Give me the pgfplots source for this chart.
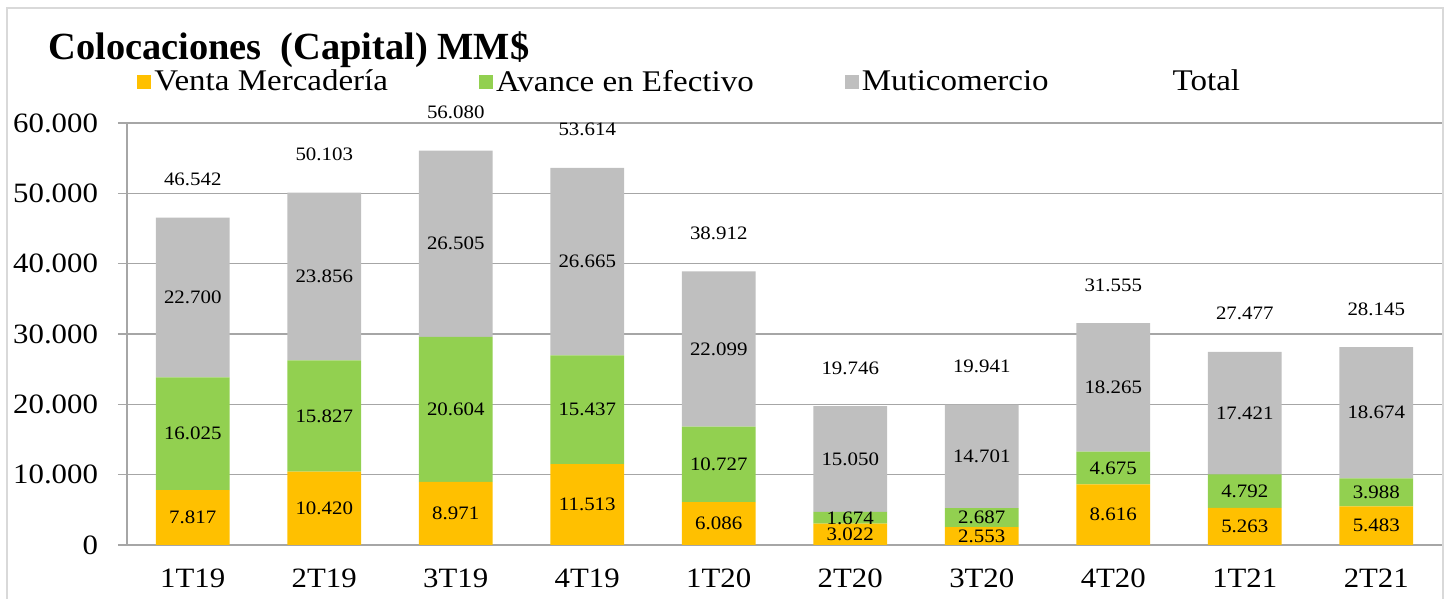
\documentclass[border=0pt]{standalone}
\usepackage{pgfplots}
\pgfplotsset{compat=1.18}
\usepackage{pgfplotstable}
\usepackage{fontspec}
\setmainfont{Liberation Serif}[FakeStretch=1.1]
\newfontfamily\titlefont{Liberation Serif}

\definecolor{venta}{HTML}{FFC000}
\definecolor{avance}{HTML}{92D050}
\definecolor{multi}{HTML}{BFBFBF}
\definecolor{gridc}{HTML}{A6A6A6}
\definecolor{framec}{HTML}{D9D9D9}

% quarter, venta mercaderia, avance en efectivo, muticomercio, total
\pgfplotstableread{
x v a m t
0 7817 16025 22700 46542
1 10420 15827 23856 50103
2 8971 20604 26505 56080
3 11513 15437 26665 53614
4 6086 10727 22099 38912
5 3022 1674 15050 19746
6 2553 2687 14701 19941
7 8616 4675 18265 31555
8 5263 4792 17421 27477
9 5483 3988 18674 28145
}\colocaciones

\pgfplotsset{
  /pgf/number format/1000 sep={.},
  /pgf/number format/assume math mode=true,
  colo/.style={at={(63.5pt,27pt)}, anchor=south west,
    width=657.5pt, height=211pt, scale only axis,
    xmin=-0.5, xmax=9.5, ymin=0, ymax=60000},
}

\begin{document}
\begin{tikzpicture}
\useasboundingbox (0,0) rectangle (723.5pt,299.5pt);
\draw[framec, line width=1pt] (3.5pt,-5pt) -- (3.5pt,295.5pt) -- (721.5pt,295.5pt) -- (721.5pt,-5pt);
\node[anchor=base west, inner sep=0pt, font=\titlefont\bfseries\fontsize{19.2}{22}\selectfont] at (24pt,269.5pt) {Colocaciones\ \ (Capital) MM\$};

\begin{axis}[colo,
  ybar stacked, bar width=0.56,
  axis lines*=left, axis line style={gridc, line width=0.6pt},
  ymajorgrids, grid style={gridc, line width=0.6pt},
  xtick=data, xticklabels={1T19,2T19,3T19,4T19,1T20,2T20,3T20,4T20,1T21,2T21},
  ytick={0,10000,20000,30000,40000,50000,60000}, scaled y ticks=false,
  tick align=outside, major tick length=4.5pt,
  xtick style={draw=none}, ytick style={gridc, line width=0.6pt},
  yticklabel style={font=\fontsize{14}{16}\selectfont, xshift=-6.5pt},
  xticklabel style={font=\fontsize{14}{16}\selectfont, yshift=-4pt},
  legend columns=4,
  legend style={draw=none, fill=none, at={(0,1)}, anchor=west, xshift=5pt, yshift=20.5pt,
    inner sep=0pt, font=\fontsize{15}{18}\selectfont,
    nodes={inner sep=1.5pt},
    /tikz/every even column/.append style={column sep=44pt}},
  legend image code/.code={\fill[#1] (0pt,-3.5pt) rectangle (7pt,3.5pt);},
]
\addplot[fill=venta, draw=none] table[x=x, y=v]{\colocaciones};
\addlegendentry{Venta Mercadería}
\addplot[fill=avance, draw=none] table[x=x, y=a]{\colocaciones};
\addlegendentry{Avance en Efectivo}
\addplot[fill=multi, draw=none] table[x=x, y=m]{\colocaciones};
\addlegendentry{Muticomercio}
\addlegendimage{legend image code/.code={\path[draw=none, fill=none] (0pt,-3.5pt) rectangle (15pt,3.5pt);}}
\addlegendentry{Total}
\end{axis}

\begin{axis}[colo, hide axis, clip=false,
  nodes near coords, point meta=explicit,
  every node near coord/.append style={font=\fontsize{9.5}{11}\selectfont, anchor=center, inner sep=0pt, text=black}]
\addplot[draw=none, mark=none] table[x=x, y expr=\thisrow{v}/2, meta=v]{\colocaciones};
\addplot[draw=none, mark=none] table[x=x, y expr=\thisrow{v}+\thisrow{a}/2, meta=a]{\colocaciones};
\addplot[draw=none, mark=none] table[x=x, y expr=\thisrow{v}+\thisrow{a}+\thisrow{m}/2, meta=m]{\colocaciones};
\addplot[draw=none, mark=none, nodes near coords style={anchor=base, yshift=16pt}] table[x=x, y=t, meta=t]{\colocaciones};
\end{axis}
\end{tikzpicture}
\end{document}
